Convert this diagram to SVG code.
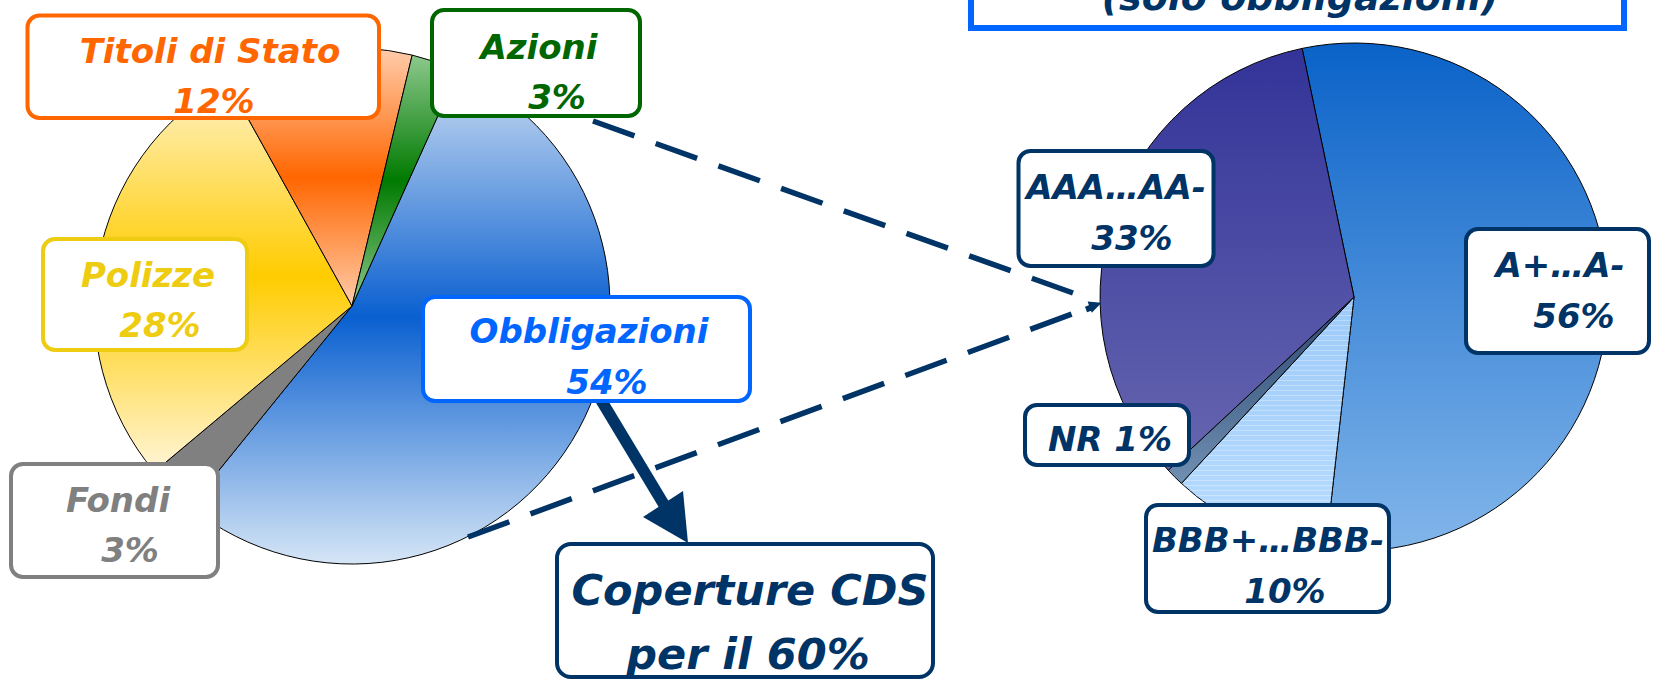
<svg xmlns="http://www.w3.org/2000/svg" width="1654" height="681" viewBox="0 0 1654 681">
<defs>
<style>
text { font-family: "DejaVu Sans", Verdana, sans-serif; font-weight: bold; font-style: italic; font-size: 34px; text-anchor: middle; }
.box { fill: #ffffff; stroke-width: 4; }
.slice { stroke: #000000; stroke-width: 1; }
.dash { fill: none; stroke: #003366; stroke-width: 5.5; stroke-dasharray: 44 22.6; }
.orange { fill: #FF6600; } .green { fill: #006600; } .yellow { fill: #EECC11; }
.blue { fill: #0066FF; } .gray { fill: #808080; } .navy { fill: #003366; }
</style>
<linearGradient id="gTit" x1="0" y1="0" x2="0" y2="1">
<stop offset="0" stop-color="#FFCDAD"/><stop offset="0.5" stop-color="#FF6600"/><stop offset="1" stop-color="#FFCCAA"/>
</linearGradient>
<linearGradient id="gAz" x1="0" y1="0" x2="0" y2="1">
<stop offset="0" stop-color="#8CC88C"/><stop offset="0.5" stop-color="#007A00"/><stop offset="1" stop-color="#8CC88C"/>
</linearGradient>
<linearGradient id="gOb" x1="0" y1="0" x2="0" y2="1">
<stop offset="0" stop-color="#CCDDF2"/><stop offset="0.5" stop-color="#0A60D0"/><stop offset="1" stop-color="#D6E6F6"/>
</linearGradient>
<linearGradient id="gPol" x1="0" y1="0" x2="0" y2="1">
<stop offset="0" stop-color="#FFF2C8"/><stop offset="0.5" stop-color="#FFCC00"/><stop offset="1" stop-color="#FFF5D8"/>
</linearGradient>
<linearGradient id="gA" x1="0" y1="0" x2="0" y2="1">
<stop offset="0" stop-color="#0A62C8"/><stop offset="1" stop-color="#82B6EA"/>
</linearGradient>
<linearGradient id="gAAA" x1="0" y1="0" x2="0" y2="1">
<stop offset="0" stop-color="#333399"/><stop offset="1" stop-color="#6666B0"/>
</linearGradient>
<linearGradient id="gNR" x1="0" y1="0" x2="0" y2="1">
<stop offset="0" stop-color="#2A4570"/><stop offset="1" stop-color="#7090B2"/>
</linearGradient>
<linearGradient id="gBBB" x1="0" y1="0" x2="0" y2="1">
<stop offset="0" stop-color="#9CCAF8"/><stop offset="1" stop-color="#BADDFF"/>
</linearGradient>
<pattern id="stripes" width="8" height="5" patternUnits="userSpaceOnUse">
<rect x="0" y="0" width="8" height="1" fill="#ffffff" opacity="0.3"/>
</pattern>
</defs>

<g id="pie-left">
<path class="slice" fill="url(#gOb)" d="M352,306 L458.2,70.9 A258,258 0 1 1 189.6,506.5 Z"/>
<path class="slice" fill="#808080" d="M352,306 L189.6,506.5 A258,258 0 0 1 154.4,471.8 Z"/>
<path class="slice" fill="url(#gPol)" d="M352,306 L154.4,471.8 A258,258 0 0 1 226.9,80.4 Z"/>
<path class="slice" fill="url(#gTit)" d="M352,306 L226.9,80.4 A258,258 0 0 1 412.2,55.1 Z"/>
<path class="slice" fill="url(#gAz)" d="M352,306 L412.2,55.1 A258,258 0 0 1 458.2,70.9 Z"/>
</g>

<g id="pie-right">
<path class="slice" fill="url(#gA)" d="M1354,297 L1302.1,48.4 A254,254 0 1 1 1325.7,549.4 Z"/>
<path class="slice" fill="url(#gBBB)" d="M1354,297 L1325.7,549.4 A254,254 0 0 1 1181.4,483.4 Z"/>
<path fill="url(#stripes)" d="M1354,297 L1325.7,549.4 A254,254 0 0 1 1181.4,483.4 Z"/>
<path class="slice" fill="url(#gNR)" d="M1354,297 L1181.4,483.4 A254,254 0 0 1 1168.2,470.2 Z"/>
<path class="slice" fill="url(#gAAA)" d="M1354,297 L1168.2,470.2 A254,254 0 0 1 1302.1,48.4 Z"/>
</g>

<g id="connectors">
<path class="dash" d="M593,121 L1073,293"/>
<path class="dash" d="M468,537 L1072,314"/>
<path d="M1086,309.5 L1091,307.6" stroke="#003366" stroke-width="6" fill="none"/>
<polygon points="1101.5,302.8 1087.6,301.4 1091.8,312.8" fill="#003366"/>
<path d="M601,400 L666,508" stroke="#003366" stroke-width="11.5" fill="none"/>
<polygon points="643,517 683,491 688,543" fill="#003366"/>
</g>

<g id="title">
<rect x="971" y="-10" width="653" height="38" fill="#ffffff" stroke="#0066FF" stroke-width="6"/>
<text class="navy" x="1300" y="10" style="font-size:38px">(solo obbligazioni)</text>
</g>

<g id="titoli">
<rect class="box" x="27.5" y="15.5" width="351.5" height="102.5" rx="12" stroke="#FF6600"/>
<text class="orange" x="210" y="63">Titoli di Stato</text>
<text class="orange" x="214" y="113">12%</text>
</g>
<g id="azioni">
<rect class="box" x="432" y="10" width="208" height="106" rx="12" stroke="#006600"/>
<text class="green" x="539" y="59">Azioni</text>
<text class="green" x="557" y="109">3%</text>
</g>
<g id="polizze">
<rect class="box" x="43" y="239" width="204" height="111" rx="12" stroke="#EECC11"/>
<text class="yellow" x="148" y="287">Polizze</text>
<text class="yellow" x="160" y="337">28%</text>
</g>
<g id="obbligazioni">
<rect class="box" x="423" y="297" width="327" height="104" rx="12" stroke="#0066FF"/>
<text class="blue" x="589" y="343">Obbligazioni</text>
<text class="blue" x="607" y="394">54%</text>
</g>
<g id="fondi">
<rect class="box" x="11" y="464" width="207" height="113" rx="12" stroke="#808080"/>
<text class="gray" x="118" y="512">Fondi</text>
<text class="gray" x="130" y="562">3%</text>
</g>
<g id="coperture">
<rect class="box" x="557" y="544" width="376" height="133" rx="14" stroke="#003366"/>
<text class="navy" x="750" y="605" style="font-size:43px">Coperture CDS</text>
<text class="navy" x="748" y="669" style="font-size:43px">per il 60%</text>
</g>
<g id="aaa">
<rect class="box" x="1018.5" y="151" width="195" height="115" rx="12" stroke="#003366"/>
<text class="navy" x="1116" y="199">AAA…AA-</text>
<text class="navy" x="1132" y="250">33%</text>
</g>
<g id="a">
<rect class="box" x="1466" y="229" width="183" height="124" rx="12" stroke="#003366"/>
<text class="navy" x="1560" y="277">A+…A-</text>
<text class="navy" x="1574" y="328">56%</text>
</g>
<g id="nr">
<rect class="box" x="1025" y="405" width="164" height="60" rx="12" stroke="#003366"/>
<text class="navy" x="1110" y="451">NR 1%</text>
</g>
<g id="bbb">
<rect class="box" x="1146" y="505" width="243" height="107" rx="12" stroke="#003366"/>
<text class="navy" x="1268" y="552">BBB+…BBB-</text>
<text class="navy" x="1285" y="603">10%</text>
</g>
</svg>
